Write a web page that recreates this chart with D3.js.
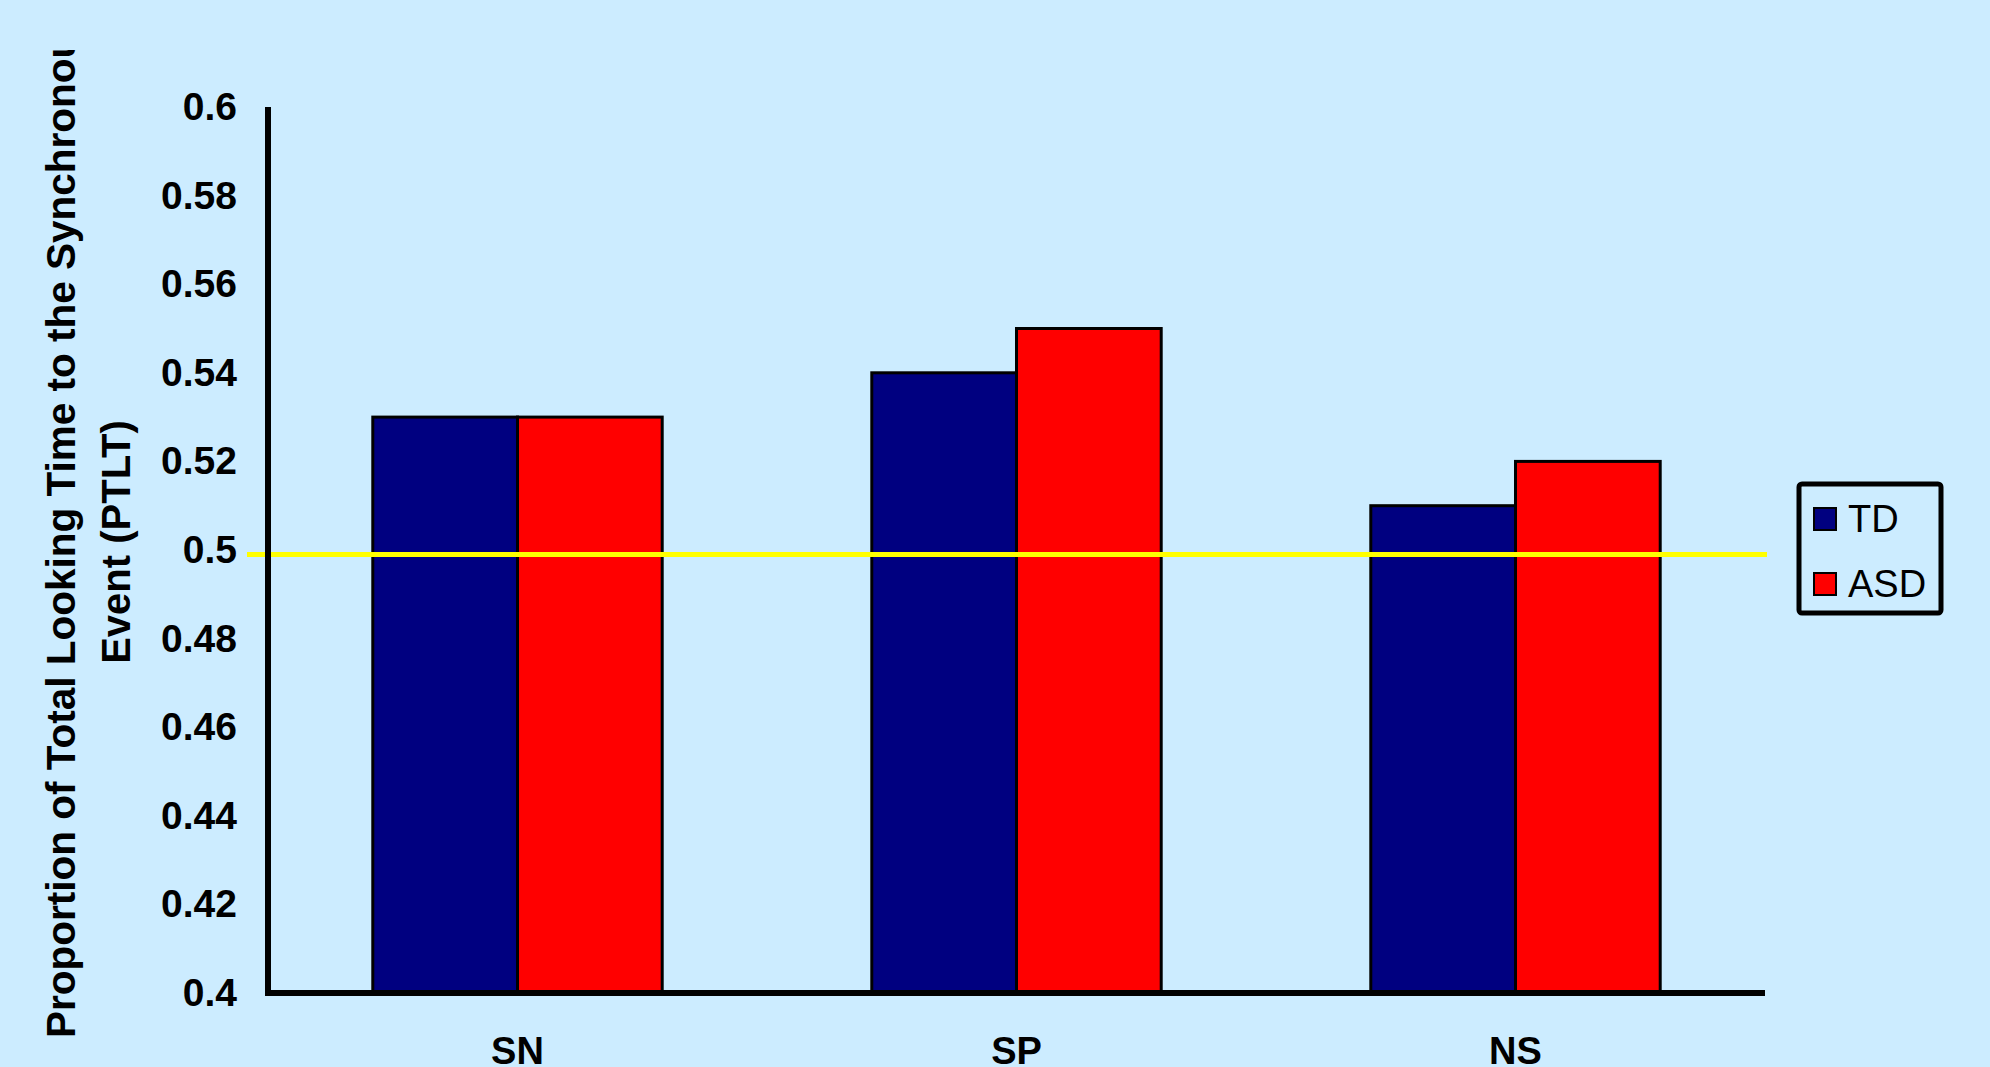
<!DOCTYPE html>
<html>
<head>
<meta charset="utf-8">
<script src="https://cdn.jsdelivr.net/npm/d3@7/dist/d3.min.js"></script>
<style>
  html, body { margin: 0; padding: 0; background: #CCECFF; }
  svg { display: block; }
  text { font-family: "Liberation Sans", Arial, sans-serif; fill: #000; }
</style>
</head>
<body>
<svg id="chart" width="1990" height="1067"></svg>
<script>
// Conditions on the x axis
const categories = ["SN", "SP", "NS"];
// Groups compared within each condition
const groups = ["TD", "ASD"];
// Mean PTLT per condition for each group
const tdValues  = [0.53, 0.54, 0.51];
const asdValues = [0.53, 0.55, 0.52];
// Y axis ticks
const yTicks = [0.4, 0.42, 0.44, 0.46, 0.48, 0.5, 0.52, 0.54, 0.56, 0.58, 0.6];
// Chance-level reference line
const chanceLevel = 0.499;

(function () {
  const groupColors = { TD: "#000080", ASD: "#FF0000" };
  const rows = categories.map((c, i) => ({ cat: c, TD: tdValues[i], ASD: asdValues[i] }));

  const svg = d3.select("#chart");
  const W = 1990, H = 1067;
  svg.append("rect").attr("width", W).attr("height", H).attr("fill", "#CCECFF");

  const plotLeft = 268, plotRight = 1765, plotTop = 107, plotBottom = 993;

  const x0 = d3.scaleBand().domain(categories).range([plotLeft, plotRight])
    .paddingInner(0.42).paddingOuter(0.21);
  const x1 = d3.scaleBand().domain(groups).range([0, x0.bandwidth()]).padding(0);
  const y = d3.scaleLinear().domain([0.4, 0.6]).range([plotBottom, plotTop]);

  // Bars
  svg.append("g").selectAll("g.cat").data(rows).join("g")
    .attr("class", "cat")
    .attr("transform", d => `translate(${x0(d.cat)},0)`)
    .selectAll("rect").data(d => groups.map(k => ({ key: k, value: d[k] }))).join("rect")
    .attr("x", d => x1(d.key))
    .attr("width", x1.bandwidth())
    .attr("y", d => y(d.value))
    .attr("height", d => y(0.4) - y(d.value))
    .attr("fill", d => groupColors[d.key])
    .attr("stroke", "#000")
    .attr("stroke-width", 3);

  // Chance line at 0.5
  svg.append("line")
    .attr("x1", 247).attr("x2", 1767)
    .attr("y1", y(chanceLevel)).attr("y2", y(chanceLevel))
    .attr("stroke", "#FFFF00").attr("stroke-width", 5);

  // Y axis
  const yAxis = svg.append("g").attr("transform", `translate(${plotLeft},0)`)
    .call(d3.axisLeft(y).tickValues(yTicks).tickFormat(d3.format("")).tickSize(0).tickSizeOuter(0).tickPadding(31));
  yAxis.select(".domain").attr("stroke", "#000").attr("stroke-width", 6)
    .attr("d", `M0,${plotTop}V${plotBottom + 3}`);
  yAxis.selectAll("text").attr("font-size", 39).attr("font-weight", "bold")
    .attr("font-family", "Liberation Sans, Arial, sans-serif");

  // X axis
  const xAxis = svg.append("g").attr("transform", `translate(0,${plotBottom})`)
    .call(d3.axisBottom(x0).tickSize(0).tickSizeOuter(0).tickPadding(44));
  xAxis.select(".domain").attr("stroke", "#000").attr("stroke-width", 6)
    .attr("d", `M${plotLeft - 3},0H${plotRight}`);
  xAxis.selectAll("text").attr("font-size", 38).attr("font-weight", "bold")
    .attr("font-family", "Liberation Sans, Arial, sans-serif");

  // Y axis title (two lines, first line clipped at the frame top)
  svg.append("clipPath").attr("id", "titleClip")
    .append("rect").attr("x", 0).attr("y", 50).attr("width", 200).attr("height", H);
  const title = svg.append("g").attr("clip-path", "url(#titleClip)");
  title.append("text")
    .attr("transform", "translate(75,1038) rotate(-90)")
    .attr("font-size", 40.5).attr("font-weight", "bold")
    .text("Proportion of Total Looking Time to the Synchronous");
  title.append("text")
    .attr("transform", "translate(130,542) rotate(-90)")
    .attr("text-anchor", "middle")
    .attr("font-size", 40).attr("font-weight", "bold")
    .text("Event (PTLT)");

  // Legend
  const legend = svg.append("g");
  legend.append("rect")
    .attr("x", 1799).attr("y", 484).attr("width", 142).attr("height", 129)
    .attr("rx", 3).attr("fill", "none").attr("stroke", "#000").attr("stroke-width", 5);
  const legendY = { TD: 508, ASD: 573 };
  groups.forEach(k => {
    legend.append("rect")
      .attr("x", 1814).attr("y", legendY[k]).attr("width", 22).attr("height", 22)
      .attr("fill", groupColors[k]).attr("stroke", "#000").attr("stroke-width", 2);
    legend.append("text")
      .attr("x", 1848).attr("y", legendY[k] + 24)
      .attr("font-size", 38)
      .text(k);
  });
})();
</script>
</body>
</html>
